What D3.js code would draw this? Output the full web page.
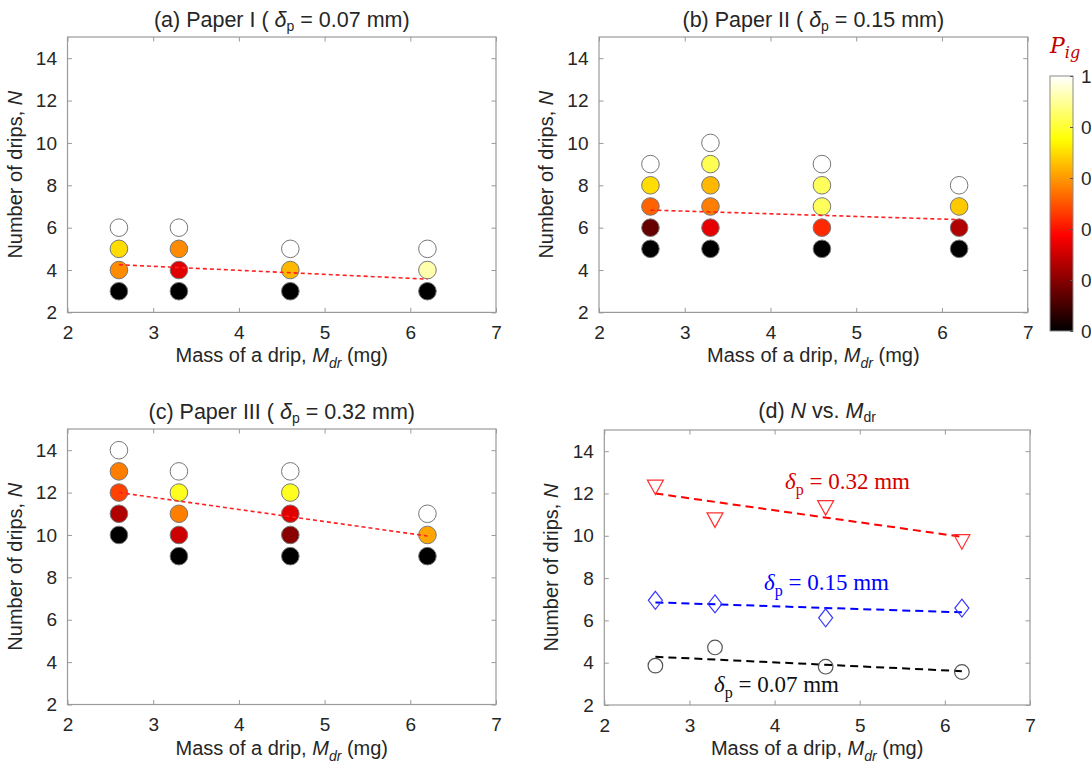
<!DOCTYPE html>
<html>
<head>
<meta charset="utf-8">
<script src="https://cdn.jsdelivr.net/npm/d3@7"></script>
<style>
  html, body { margin: 0; padding: 0; background: #fff; }
  svg { display: block; }
</style>
</head>
<body>
<svg id="chart" width="1091" height="767"></svg>
<script>
// ---------------- DATA ----------------
const massX = [2.6, 3.3, 4.6, 6.2];
const xTicks = [2, 3, 4, 5, 6, 7];
const yTicks = [2, 4, 6, 8, 10, 12, 14];
const cbTicks = [0, 0.2, 0.4, 0.6, 0.8, 1];
const cbTickLabels = ["0", "0.2", "0.4", "0.6", "0.8", "1"];

// Paper I : number of drips tested at each mass, and ignition probability P_ig
const paperI_N   = [[3, 4, 5, 6], [3, 4, 5, 6], [3, 4, 5], [3, 4, 5]];
const paperI_P   = [[0, 0.58, 0.70, 1], [0, 0.33, 0.58, 1], [0, 0.645, 1], [0, 0.92, 1]];
const paperI_fit = [4.25, 3.57];

// Paper II
const paperII_N   = [[5, 6, 7, 8, 9], [5, 6, 7, 8, 9, 10], [5, 6, 7, 8, 9], [5, 6, 7, 8]];
const paperII_P   = [[0, 0.15, 0.52, 0.70, 1], [0, 0.34, 0.56, 0.645, 0.83, 1], [0, 0.435, 0.84, 0.84, 1], [0, 0.26, 0.67, 1]];
const paperII_fit = [6.83, 6.38];

// Paper III
const paperIII_N   = [[10, 11, 12, 13, 14], [9, 10, 11, 12, 13], [9, 10, 11, 12, 13], [9, 10, 11]];
const paperIII_P   = [[0, 0.26, 0.47, 0.56, 1], [0, 0.30, 0.56, 0.78, 1], [0, 0.20, 0.33, 0.78, 1], [0, 0.62, 1]];
const paperIII_fit = [12.0, 9.95];

// Panel (d): mean number of drips N vs. M_dr
const meanI   = [3.86, 4.72, 3.81, 3.56];
const meanII  = [6.95, 6.78, 6.12, 6.58];
const meanIII = [12.3, 10.75, 11.33, 9.72];
const fitI   = [4.28, 3.6];
const fitII  = [6.85, 6.38];
const fitIII = [12.0, 9.95];

// ---------------- HELPERS ----------------
function hot(t) {
  const r = Math.min(1, t / 0.375);
  const g = Math.max(0, Math.min(1, (t - 0.375) / 0.375));
  const b = Math.max(0, Math.min(1, (t - 0.75) / 0.25));
  return d3.rgb(r * 255, g * 255, b * 255).formatHex();
}

const SANS = '"Liberation Sans", Arial, Helvetica, sans-serif';
const SERIF = '"Liberation Serif", "Times New Roman", serif';
const svg = d3.select("#chart");
const axisColor = "#9a9a9a";
const textColor = "#262626";
const TICK_FS = 19, LABEL_FS = 20, TITLE_FS = 21.5;

function sansText(sel, fs) {
  return sel.style("font-family", SANS).style("font-size", fs + "px").style("fill", textColor);
}

const panels = [
  { key: "a", x0: 67.5, x1: 496, y0: 37, y1: 312.4 },
  { key: "b", x0: 599, x1: 1027.7, y0: 37, y1: 312.4 },
  { key: "c", x0: 67.5, x1: 496, y0: 429, y1: 704.5 },
  { key: "d", x0: 604.3, x1: 1030, y0: 430, y1: 705 }
];

function makeAxes(p) {
  const x = d3.scaleLinear().domain([2, 7]).range([p.x0, p.x1]);
  const y = d3.scaleLinear().domain([2, 15]).range([p.y1, p.y0]);
  const g = svg.append("g");
  g.append("rect").attr("x", p.x0).attr("y", p.y0)
    .attr("width", p.x1 - p.x0).attr("height", p.y1 - p.y0)
    .attr("fill", "none").attr("stroke", axisColor).attr("stroke-width", 1.2);
  const tl = 4.5;
  const bx = d3.axisBottom(x).tickValues(xTicks).tickSize(-tl).tickPadding(9 + tl).tickFormat(d3.format("d"));
  const gb = g.append("g").attr("transform", `translate(0,${p.y1})`).call(bx);
  const tx = d3.axisTop(x).tickValues(xTicks).tickSize(-tl).tickFormat("");
  const gt = g.append("g").attr("transform", `translate(0,${p.y0})`).call(tx);
  const ly = d3.axisLeft(y).tickValues(yTicks).tickSize(-tl).tickPadding(6 + tl).tickFormat(d3.format("d"));
  const gl = g.append("g").attr("transform", `translate(${p.x0},0)`).call(ly);
  const ry = d3.axisRight(y).tickValues(yTicks).tickSize(-tl).tickFormat("");
  const gr = g.append("g").attr("transform", `translate(${p.x1},0)`).call(ry);
  [gb, gt, gl, gr].forEach(a => {
    a.select(".domain").remove();
    a.selectAll(".tick line").attr("stroke", axisColor).attr("stroke-width", 1);
    sansText(a.selectAll(".tick text"), TICK_FS);
  });
  const cy = (p.y0 + p.y1) / 2;
  const ylab = sansText(g.append("text"), LABEL_FS)
    .attr("transform", `translate(${p.x0 - 46},${cy}) rotate(-90)`)
    .attr("text-anchor", "middle");
  ylab.append("tspan").text("Number of drips, ");
  ylab.append("tspan").style("font-style", "italic").text("N");
  const xlab = sansText(g.append("text"), LABEL_FS)
    .attr("x", (p.x0 + p.x1) / 2).attr("y", p.y1 + 50)
    .attr("text-anchor", "middle");
  xlab.append("tspan").text("Mass of a drip, ");
  xlab.append("tspan").style("font-style", "italic").text("M");
  xlab.append("tspan").style("font-style", "italic").style("font-size", "14px").attr("dy", 6).text("dr");
  xlab.append("tspan").attr("dy", -6).text(" (mg)");
  return { x, y, g };
}

function paperTitle(p, label, paper, delta) {
  const t = sansText(svg.append("text"), TITLE_FS)
    .attr("x", (p.x0 + p.x1) / 2).attr("y", p.y0 - 10)
    .attr("text-anchor", "middle");
  t.append("tspan").text(`(${label}) Paper ${paper} ( `);
  t.append("tspan").style("font-style", "italic").text("δ");
  t.append("tspan").style("font-size", "14px").attr("dy", 4).text("p");
  t.append("tspan").attr("dy", -4).text(` = ${delta} mm)`);
}

function scatterPanel(p, Ns, Ps, fit) {
  const { x, y, g } = makeAxes(p);
  const pts = [];
  massX.forEach((m, i) => Ns[i].forEach((n, j) => pts.push({ m, n, p: Ps[i][j] })));
  g.selectAll("circle.pt").data(pts).enter().append("circle")
    .attr("class", "pt")
    .attr("cx", d => x(d.m)).attr("cy", d => y(d.n)).attr("r", 8.8)
    .attr("fill", d => hot(d.p)).attr("stroke", "#777").attr("stroke-width", 1);
  const line = d3.line().x(d => x(d[0])).y(d => y(d[1]));
  g.append("path").datum([[massX[0], fit[0]], [massX[3], fit[1]]])
    .attr("d", line).attr("fill", "none").attr("stroke", "#ff2020")
    .attr("stroke-width", 1.6).attr("stroke-dasharray", "4,3");
}

// ---------------- PANELS a-c ----------------
scatterPanel(panels[0], paperI_N, paperI_P, paperI_fit);
paperTitle(panels[0], "a", "I", "0.07");
scatterPanel(panels[1], paperII_N, paperII_P, paperII_fit);
paperTitle(panels[1], "b", "II", "0.15");
scatterPanel(panels[2], paperIII_N, paperIII_P, paperIII_fit);
paperTitle(panels[2], "c", "III", "0.32");

// ---------------- PANEL d ----------------
(function () {
  const p = panels[3];
  const { x, y, g } = makeAxes(p);
  const line = d3.line().x(d => x(d[0])).y(d => y(d[1]));
  const series = [
    { vals: meanIII, fit: fitIII, color: "#ff0000", shape: "tri" },
    { vals: meanII, fit: fitII, color: "#0000ff", shape: "dia" },
    { vals: meanI, fit: fitI, color: "#000000", shape: "circ" }
  ];
  series.forEach(s => {
    g.append("path").datum([[massX[0], s.fit[0]], [massX[3], s.fit[1]]])
      .attr("d", line).attr("fill", "none").attr("stroke", s.color)
      .attr("stroke-width", 2).attr("stroke-dasharray", "8,5");
    const pts = massX.map((m, i) => ({ m, v: s.vals[i] }));
    const sel = g.selectAll(null).data(pts).enter();
    const mcol = s.shape === "circ" ? "#555" : (s.shape === "tri" ? "#ff3030" : "#3a3aff");
    if (s.shape === "circ") {
      sel.append("circle").attr("cx", d => x(d.m)).attr("cy", d => y(d.v)).attr("r", 7.3)
        .attr("fill", "none").attr("stroke", mcol).attr("stroke-width", 1.2);
    } else if (s.shape === "tri") {
      sel.append("path").attr("transform", d => `translate(${x(d.m)},${y(d.v)})`)
        .attr("d", "M-8,-7 L8,-7 L0,7.5 Z")
        .attr("fill", "none").attr("stroke", mcol).attr("stroke-width", 1.2);
    } else {
      sel.append("path").attr("transform", d => `translate(${x(d.m)},${y(d.v)})`)
        .attr("d", "M0,-9 L7,0 L0,9 L-7,0 Z")
        .attr("fill", "none").attr("stroke", mcol).attr("stroke-width", 1.2);
    }
  });
  function note(xp, yp, color, val) {
    const t = svg.append("text").attr("x", xp).attr("y", yp)
      .style("font-family", SERIF).style("font-size", "23px").style("fill", color);
    t.append("tspan").style("font-style", "italic").text("δ");
    t.append("tspan").style("font-size", "16px").attr("dy", 6).text("p");
    t.append("tspan").attr("dy", -6).text(` = ${val} mm`);
  }
  note(785, 489, "#d40000", "0.32");
  note(764, 590, "#0000ff", "0.15");
  note(714, 692, "#111111", "0.07");
  const t = sansText(svg.append("text"), TITLE_FS)
    .attr("x", (p.x0 + p.x1) / 2).attr("y", p.y0 - 12)
    .attr("text-anchor", "middle");
  t.append("tspan").text("(d) ");
  t.append("tspan").style("font-style", "italic").text("N");
  t.append("tspan").text(" vs. ");
  t.append("tspan").style("font-style", "italic").text("M");
  t.append("tspan").style("font-size", "14px").attr("dy", 4).text("dr");
})();

// ---------------- COLORBAR ----------------
(function () {
  const cb = { x: 1050, w: 23, y0: 76, y1: 331 };
  const defs = svg.append("defs");
  const grad = defs.append("linearGradient").attr("id", "hotgrad")
    .attr("x1", 0).attr("y1", 1).attr("x2", 0).attr("y2", 0);
  d3.range(0, 1.0001, 0.02).forEach(t => {
    grad.append("stop").attr("offset", t).attr("stop-color", hot(t));
  });
  svg.append("rect").attr("x", cb.x).attr("y", cb.y0).attr("width", cb.w)
    .attr("height", cb.y1 - cb.y0).attr("fill", "url(#hotgrad)")
    .attr("stroke", "#8a8a8a").attr("stroke-width", 1);
  const cy = d3.scaleLinear().domain([0, 1]).range([cb.y1, cb.y0]);
  const ax = d3.axisRight(cy).tickValues(cbTicks).tickSize(-3).tickPadding(8)
    .tickFormat((d, i) => cbTickLabels[i]);
  const ga = svg.append("g").attr("transform", `translate(${cb.x + cb.w},0)`).call(ax);
  ga.select(".domain").remove();
  ga.selectAll(".tick line").attr("stroke", "#555");
  sansText(ga.selectAll(".tick text"), TICK_FS);
  const t = svg.append("text").attr("x", 1050).attr("y", 53)
    .style("font-family", '"DejaVu Serif", "Liberation Serif", serif')
    .style("font-style", "italic").style("font-size", "22px").style("fill", "#c00000");
  t.append("tspan").text("P");
  t.append("tspan").style("font-size", "16px").attr("dy", 5).text("ig");
})();
</script>
</body>
</html>
